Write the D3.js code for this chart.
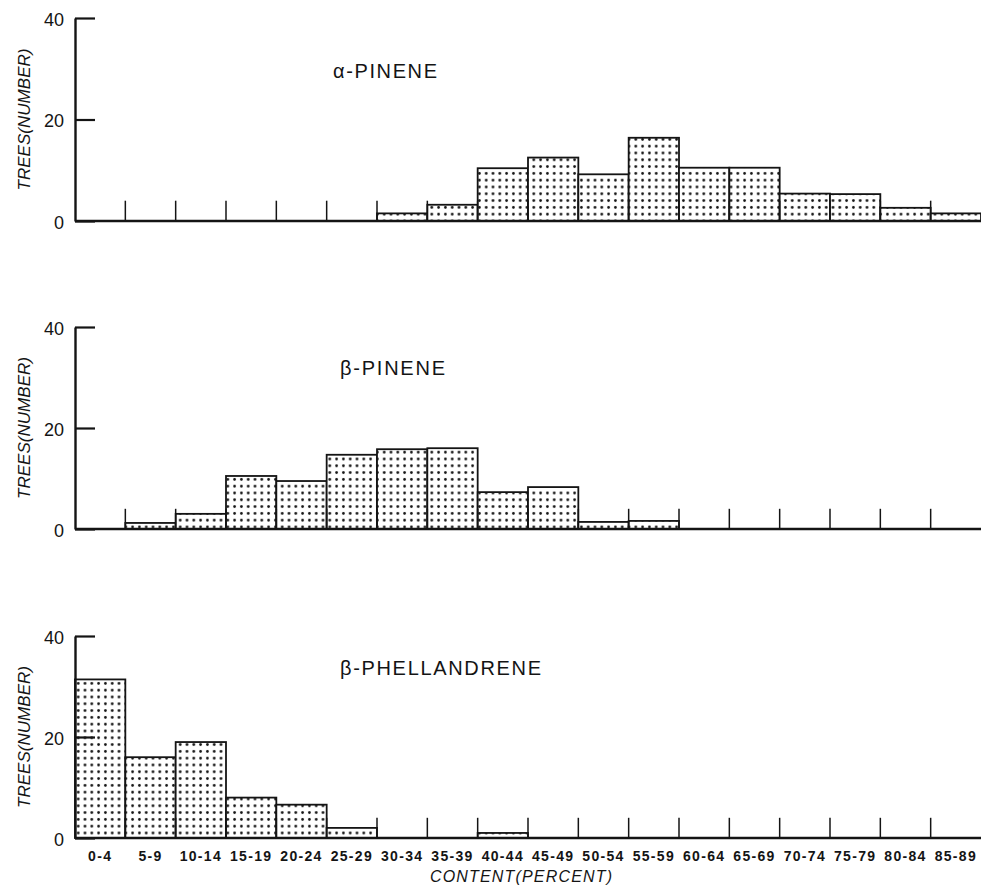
<!DOCTYPE html>
<html>
<head>
<meta charset="utf-8">
<script src="https://cdn.jsdelivr.net/npm/d3@7"></script>
<style>
  html, body { margin: 0; padding: 0; background: #fff; }
  svg { display: block; }
</style>
</head>
<body>
<script>
// ---- data ----
const categories = ["0-4","5-9","10-14","15-19","20-24","25-29","30-34","35-39","40-44",
  "45-49","50-54","55-59","60-64","65-69","70-74","75-79","80-84","85-89"];
const alphaPinene      = [0,0,0,0,0,0,1.5,3.2,10.4,12.5,9.2,16.4,10.5,10.5,5.4,5.3,2.6,1.5];
const betaPinene       = [0,1.2,3,10.5,9.5,14.7,15.8,16,7.3,8.3,1.4,1.6,0,0,0,0,0,0];
const betaPhellandrene = [31.4,16,19,8,6.6,2,0,0,1,0,0,0,0,0,0,0,0,0];
const seriesNames = ["α-PINENE","β-PINENE","β-PHELLANDRENE"];
const yTickValues = [0,20,40];
const yAxisTitle = "TREES(NUMBER)";
const xAxisTitle = "CONTENT(PERCENT)";

// ---- layout (pixels) ----
const W = 981, H = 888;
const xLeft = 75, xRight = 981;
const panels = [
  {name: seriesNames[0], values: alphaPinene,      top: 18,  base: 221, tx: 333, ty: 78,  tlen: 104},
  {name: seriesNames[1], values: betaPinene,       top: 327, base: 529, tx: 340, ty: 375, tlen: 105},
  {name: seriesNames[2], values: betaPhellandrene, top: 636, base: 838, tx: 340, ty: 675, tlen: 201}
];

const svg = d3.select("body").append("svg")
  .attr("width", W).attr("height", H)
  .attr("viewBox", `0 0 ${W} ${H}`);

const defs = svg.append("defs");
const ps = 6.8;
const pat = defs.append("pattern")
  .attr("id", "dots").attr("patternUnits", "userSpaceOnUse")
  .attr("width", ps).attr("height", ps);
pat.append("rect").attr("width", ps).attr("height", ps).attr("fill", "#fff");
pat.append("circle").attr("cx", ps / 2).attr("cy", ps / 2).attr("r", 1.35).attr("fill", "#111");

const x = d3.scaleBand().domain(categories).range([xLeft, xRight]).padding(0);
const ink = "#141414";

panels.forEach((p, pi) => {
  const y = d3.scaleLinear().domain([0, 40]).range([p.base, p.top]);
  const g = svg.append("g");

  // bars
  const data = categories.map((c, i) => ({c, v: p.values[i]})).filter(d => d.v > 0);
  g.selectAll("rect.bar").data(data).join("rect")
    .attr("class", "bar")
    .attr("x", d => x(d.c))
    .attr("y", d => y(d.v))
    .attr("width", x.bandwidth())
    .attr("height", d => y(0) - y(d.v))
    .attr("fill", "url(#dots)")
    .attr("stroke", ink).attr("stroke-width", 1.8);

  // class boundary marks
  g.selectAll("line.bnd").data(categories.slice(1)).join("line")
    .attr("class", "bnd")
    .attr("x1", d => x(d)).attr("x2", d => x(d))
    .attr("y1", y(0)).attr("y2", y(4))
    .attr("stroke", ink).attr("stroke-width", 1.5);

  // baseline
  g.append("line")
    .attr("x1", xLeft).attr("x2", xRight)
    .attr("y1", y(0)).attr("y2", y(0))
    .attr("stroke", ink).attr("stroke-width", 2.4);

  // y axis
  const yAxis = d3.axisLeft(y).tickValues(yTickValues)
    .tickSizeInner(-20).tickSizeOuter(0).tickPadding(11)
    .tickFormat(d3.format("d"));
  const ya = g.append("g").attr("transform", `translate(${xLeft},0)`).call(yAxis);
  ya.select(".domain").attr("stroke", ink).attr("stroke-width", 2.4);
  ya.selectAll(".tick line").attr("stroke", ink).attr("stroke-width", 2.2);
  ya.selectAll(".tick text")
    .attr("font-family", "'Liberation Sans', Arial, sans-serif")
    .attr("font-size", 18).attr("fill", ink).attr("dy", "0.4em");

  // y title
  g.append("text")
    .attr("transform", `translate(30,${(p.top + p.base) / 2}) rotate(-90)`)
    .attr("text-anchor", "middle")
    .attr("font-family", "'Liberation Sans Narrow', 'Liberation Sans', sans-serif")
    .attr("font-style", "italic")
    .attr("font-size", 17)
    .attr("textLength", 142)
    .attr("fill", ink)
    .text(yAxisTitle);

  // panel title
  g.append("text")
    .attr("x", p.tx).attr("y", p.ty)
    .attr("font-family", "'Liberation Sans', Arial, sans-serif")
    .attr("font-size", 20)
    .attr("textLength", p.tlen)
    .attr("fill", ink)
    .text(p.name);

  // x axis labels on bottom panel
  if (pi === panels.length - 1) {
    const xAxis = d3.axisBottom(x).tickSize(0).tickPadding(13);
    const xa = g.append("g").attr("transform", `translate(0,${p.base})`).call(xAxis);
    xa.select(".domain").remove();
    xa.selectAll(".tick text")
      .attr("font-family", "'Liberation Sans Narrow', 'Liberation Sans', sans-serif")
      .attr("font-size", 14)
      .attr("font-weight", "bold")
      .attr("letter-spacing", "1.3px")
      .attr("fill", ink);

    g.append("text")
      .attr("x", 521).attr("y", 882)
      .attr("text-anchor", "middle")
      .attr("font-family", "'Liberation Sans', Arial, sans-serif")
      .attr("font-style", "italic")
      .attr("font-size", 16)
      .attr("textLength", 182)
      .attr("fill", ink)
      .text(xAxisTitle);
  }
});
</script>
</body>
</html>
